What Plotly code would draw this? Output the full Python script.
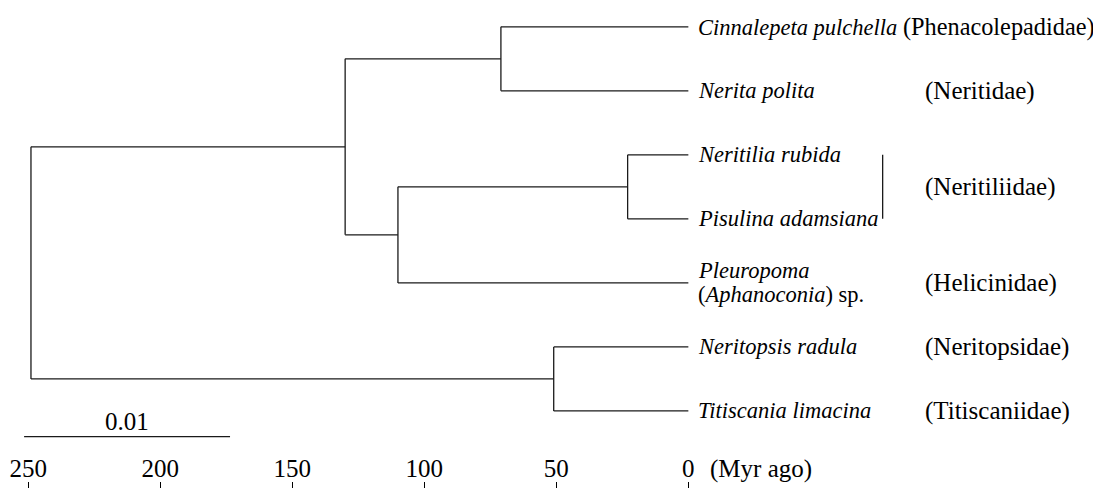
import plotly.graph_objects as go

# ---- data -------------------------------------------------------------
tips = ["Cinnalepeta pulchella", "Nerita polita", "Neritilia rubida",
        "Pisulina adamsiana", "Pleuropoma (Aphanoconia) sp.",
        "Neritopsis radula", "Titiscania limacina"]
tip_ages = [0, 0, 0, 0, 0, 0, 0]  # Myr ago

node_names = ["A", "B", "C", "D", "E", "root"]
node_children = [
    ("Cinnalepeta pulchella", "Nerita polita"),
    ("Neritilia rubida", "Pisulina adamsiana"),
    ("B", "Pleuropoma (Aphanoconia) sp."),
    ("A", "C"),
    ("Neritopsis radula", "Titiscania limacina"),
    ("D", "E"),
]
node_ages = [71, 23, 110, 130, 51, 249]  # Myr ago

families = ["(Neritidae)", "(Neritiliidae)", "(Helicinidae)",
            "(Neritopsidae)", "(Titiscaniidae)"]
family_rows = [1, 2.5, 4, 5, 6]
tick_vals = [250, 200, 150, 100, 50, 0]
tick_text = ["250", "200", "150", "100", "50", "0"]
scale_value = "0.01"
scale_start = 251.6   # Myr-equivalent position of scale bar start
scale_len = 78.0      # Myr-equivalent length of 0.01 subst./site

# ---- geometry ---------------------------------------------------------
pos = {}
age = {}
for i, t in enumerate(tips):
    pos[t] = i
    age[t] = tip_ages[i]
for n, ch, a in zip(node_names, node_children, node_ages):
    pos[n] = (pos[ch[0]] + pos[ch[1]]) / 2
    age[n] = a

xs, ys = [], []
for n, ch in zip(node_names, node_children):
    c1, c2 = ch
    xs += [age[n], age[n], None]
    ys += [pos[c1], pos[c2], None]
    for c in ch:
        xs += [age[n], age[c], None]
        ys += [pos[c], pos[c], None]

FONT = "Liberation Serif, Times New Roman, serif"
FS_I = 22.5   # italic species names
FS_R = 25     # roman text
LC = "#1a1a1a"

fig = go.Figure()
fig.add_trace(go.Scatter(x=xs, y=ys, mode="lines",
                         line=dict(color=LC, width=1.3),
                         hoverinfo="skip", showlegend=False))

ann = []
for i, t in enumerate(tips):
    if i == 4:
        ann.append(dict(x=0, y=3.814, text="<i>Pleuropoma</i>",
                        xanchor="left", yanchor="middle", xshift=8,
                        showarrow=False, font=dict(size=FS_I)))
        ann.append(dict(x=0, y=4.174,
                        text="(<i>Aphanoconia</i>) sp.",
                        xanchor="left", yanchor="middle", xshift=8,
                        showarrow=False, font=dict(size=FS_I)))
    else:
        txt = "<i>%s</i>" % t
        if i == 0:
            txt += " <span style='font-size:24.3px'>(Phenacolepadidae)</span>"
        ann.append(dict(x=0, y=pos[t], text=txt, xanchor="left",
                        yanchor="middle", xshift=8, showarrow=False,
                        font=dict(size=FS_I)))
for f, r in zip(families, family_rows):
    ann.append(dict(x=-88.9, y=r, text=f, xanchor="left", yanchor="middle",
                    showarrow=False, font=dict(size=FS_R)))
ann.append(dict(x=scale_start - scale_len / 2, y=6.17, text=scale_value,
                xanchor="center", yanchor="middle", showarrow=False,
                font=dict(size=FS_R)))
ann.append(dict(x=-7.5, y=6.907, text="(Myr ago)", xanchor="left",
                yanchor="middle", showarrow=False, font=dict(size=FS_R)))

shapes = [
    dict(type="line", xref="x", yref="y", x0=scale_start,
         x1=scale_start - scale_len, y0=6.40, y1=6.40,
         line=dict(color=LC, width=1.3)),
    dict(type="line", xref="x", yref="y", x0=-73.6, x1=-73.6,
         y0=pos["Neritilia rubida"], y1=pos["Pisulina adamsiana"],
         line=dict(color=LC, width=1.3)),
]

# page body has an 8px margin: figure is 8px smaller than the window
fig.update_layout(
    width=1093, height=480,
    margin=dict(l=0, r=0, t=0, b=0),
    paper_bgcolor="white", plot_bgcolor="white",
    font=dict(family=FONT, size=FS_R, color="black"),
    annotations=ann, shapes=shapes, showlegend=False,
    xaxis=dict(range=[257.7, -156.3], tickvals=tick_vals, ticktext=tick_text,
               side="top", anchor="free", position=0, ticks="outside",
               ticklen=6, tickwidth=1, tickcolor="black", showline=False,
               showgrid=False, zeroline=False, ticklabelstandoff=-5,
               tickfont=dict(family=FONT, size=FS_R, color="black")),
    yaxis=dict(range=[7.204, -0.2937], visible=False, showgrid=False,
               zeroline=False),
)

fig.write_html("out.html")
